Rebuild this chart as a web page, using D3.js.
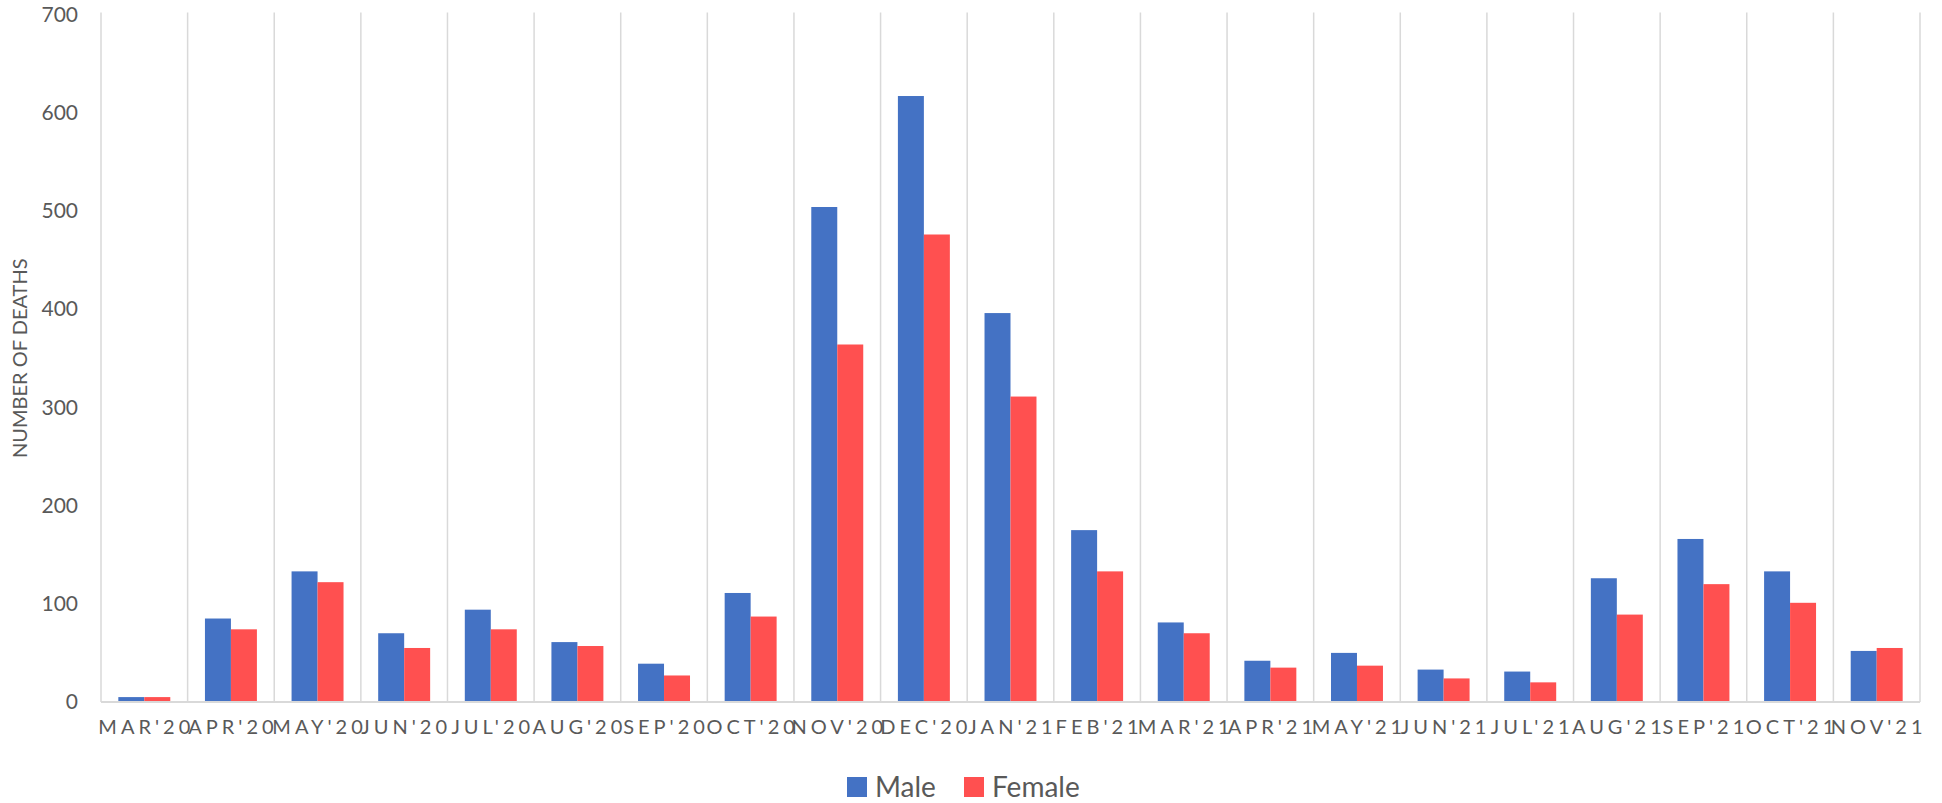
<!DOCTYPE html>
<html>
<head>
<meta charset="utf-8">
<script src="https://cdnjs.cloudflare.com/ajax/libs/d3/7.8.5/d3.min.js"></script>
<style>
  body { margin: 0; background: #fff; }
  text { font-family: Lato, "Open Sans", sans-serif; fill: #595959; }
</style>
</head>
<body>
<div id="chart"></div>
<script>
// monthly deaths by sex
var months = ["MAR'20", "APR'20", "MAY'20", "JUN'20", "JUL'20", "AUG'20", "SEP'20",
  "OCT'20", "NOV'20", "DEC'20", "JAN'21", "FEB'21", "MAR'21", "APR'21", "MAY'21",
  "JUN'21", "JUL'21", "AUG'21", "SEP'21", "OCT'21", "NOV'21"];
var male   = [5, 85, 133, 70, 94, 61, 39, 111, 504, 617, 396, 175, 81, 42, 50, 33, 31, 126, 166, 133, 52];
var female = [5, 74, 122, 55, 74, 57, 27, 87, 364, 476, 311, 133, 70, 35, 37, 24, 20, 89, 120, 101, 55];
var seriesNames = ["Male", "Female"];
var yTicks = [0, 100, 200, 300, 400, 500, 600, 700];

var width = 1942;
var height = 803;
var colors = { Male: "#4472C4", Female: "#FF5050" };

var svg = d3.select("#chart").append("svg")
  .attr("width", width)
  .attr("height", height);

var x = d3.scaleBand()
  .domain(months)
  .range([101, 1920])
  .paddingInner(0)
  .paddingOuter(0);

var xSub = d3.scaleBand()
  .domain(seriesNames)
  .range([0, x.bandwidth()])
  .paddingInner(0)
  .paddingOuter(0.667);

var y = d3.scaleLinear()
  .domain([0, 700])
  .range([702, 14.5]);

// vertical gridlines between the months
var gridX = months.map(function(m) { return x(m); }).concat([x.range()[1]]);
svg.append("g").selectAll("line")
  .data(gridX)
  .enter().append("line")
  .attr("x1", function(d) { return d; })
  .attr("x2", function(d) { return d; })
  .attr("y1", y(700) - 2)
  .attr("y2", y(0))
  .attr("stroke", "#d9d9d9")
  .attr("stroke-width", 1.5);

// bars
var rows = months.map(function(m, i) {
  return { month: m, values: [{ key: "Male", v: male[i] }, { key: "Female", v: female[i] }] };
});

var groups = svg.append("g").selectAll("g")
  .data(rows)
  .enter().append("g")
  .attr("transform", function(d) { return "translate(" + x(d.month) + ",0)"; });

groups.selectAll("rect")
  .data(function(d) { return d.values; })
  .enter().append("rect")
  .attr("x", function(d) { return xSub(d.key); })
  .attr("width", xSub.bandwidth())
  .attr("y", function(d) { return y(d.v); })
  .attr("height", function(d) { return y(0) - y(d.v); })
  .attr("fill", function(d) { return colors[d.key]; });

// baseline
svg.append("line")
  .attr("x1", x.range()[0])
  .attr("x2", x.range()[1])
  .attr("y1", y(0))
  .attr("y2", y(0))
  .attr("stroke", "#d9d9d9")
  .attr("stroke-width", 2);

// y axis labels
var yAxis = d3.axisLeft(y).tickValues(yTicks).tickSize(0).tickPadding(0);
var yG = svg.append("g")
  .attr("transform", "translate(78,0)")
  .call(yAxis);
yG.select(".domain").remove();
yG.selectAll("text")
  .style("font-family", "Lato, sans-serif")
  .style("font-size", "21px")
  .style("fill", "#595959");

// x axis labels (letter spaced like the original)
var xAxis = d3.axisBottom(x).tickSize(0).tickPadding(0);
var xG = svg.append("g")
  .attr("transform", "translate(0,720)")
  .call(xAxis);
xG.select(".domain").remove();
xG.selectAll("text")
  .style("font-family", "Lato, sans-serif")
  .style("font-size", "20px")
  .style("letter-spacing", "4px")
  .style("fill", "#595959")
  .attr("dx", 2);

// y axis title
svg.append("text")
  .attr("transform", "translate(27," + ((y(0) + y(700)) / 2) + ") rotate(-90)")
  .attr("text-anchor", "middle")
  .style("font-size", "20px")
  .text("NUMBER OF DEATHS");

// legend
var legend = svg.append("g").attr("transform", "translate(847,777)");
var legendX = [0, 117];
var item = legend.selectAll("g")
  .data(seriesNames)
  .enter().append("g")
  .attr("transform", function(d, i) { return "translate(" + legendX[i] + ",0)"; });
item.append("rect")
  .attr("width", 20)
  .attr("height", 20)
  .attr("fill", function(d) { return colors[d]; });
item.append("text")
  .attr("x", 28)
  .attr("y", 10)
  .attr("dy", "0.36em")
  .style("font-size", "28px")
  .text(function(d) { return d; });
</script>
</body>
</html>
